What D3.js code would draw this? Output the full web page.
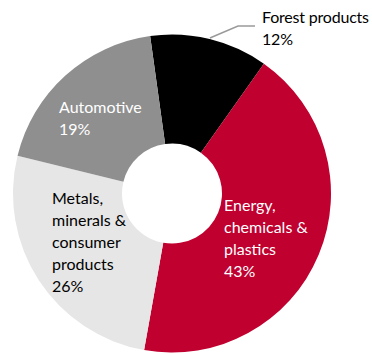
<!DOCTYPE html>
<html>
<head>
<meta charset="utf-8">
<script src="https://cdn.jsdelivr.net/npm/d3@7"></script>
<style>
  html, body { margin: 0; padding: 0; background: #fff; overflow: hidden; }
  svg { display: block; }
  text { font-family: Lato, "Liberation Sans", sans-serif; font-size: 16px; }
</style>
</head>
<body>
<svg id="chart" width="372" height="354"></svg>
<script>
// ---- data ----
const categories = ["Forest products", "Energy, chemicals & plastics", "Metals, minerals & consumer products", "Automotive"];
const values = [12, 43, 26, 19];
const labelLines = [
  ["Forest products"],
  ["Energy,", "chemicals &", "plastics"],
  ["Metals,", "minerals &", "consumer", "products"],
  ["Automotive"]
];

// ---- layout / style (kept separate from data) ----
const colors = ["#000000", "#C0002F", "#E6E6E6", "#8F8F8F"];
const textColors = ["#000000", "#FFFFFF", "#000000", "#FFFFFF"];
const labelPos = [[262, 23], [224, 211], [52, 204], [59, 113]];
const letterSp = [-0.2, 0, 0, 0];
const lineH = 22;
const cx = 172, cy = 193.5, rOuter = 159, rInner = 50;
const startDeg = -7.9;

const svg = d3.select("#chart");
const g = svg.append("g").attr("transform", `translate(${cx},${cy})`);

const start = startDeg * Math.PI / 180;
const pie = d3.pie().sort(null).value(d => d).startAngle(start).endAngle(start + 2 * Math.PI);
const arc = d3.arc().innerRadius(rInner).outerRadius(rOuter);
const arcs = pie(values);

g.selectAll("path.slice").data(arcs).enter().append("path")
  .attr("class", "slice")
  .attr("d", arc)
  .attr("fill", (d, i) => colors[i]);

// leader line for Forest products
const fa = arcs[0];
const mid = (fa.startAngle + fa.endAngle) / 2;
const p0 = [cx + Math.sin(mid) * (rOuter + 1), cy - Math.cos(mid) * (rOuter + 1)];
svg.append("polyline")
  .attr("points", [p0, [238, 26], [255, 26]].map(p => p.join(",")).join(" "))
  .attr("fill", "none")
  .attr("stroke", "#9a9a9a")
  .attr("stroke-width", 1.5);

// labels
categories.forEach((c, i) => {
  const lines = labelLines[i].concat([values[i] + "%"]);
  const t = svg.append("text")
    .attr("x", labelPos[i][0])
    .attr("y", labelPos[i][1])
    .attr("letter-spacing", letterSp[i])
    .attr("fill", textColors[i]);
  lines.forEach((ln, j) => {
    t.append("tspan").attr("x", labelPos[i][0]).attr("dy", j === 0 ? 0 : lineH).text(ln);
  });
});
</script>
</body>
</html>
